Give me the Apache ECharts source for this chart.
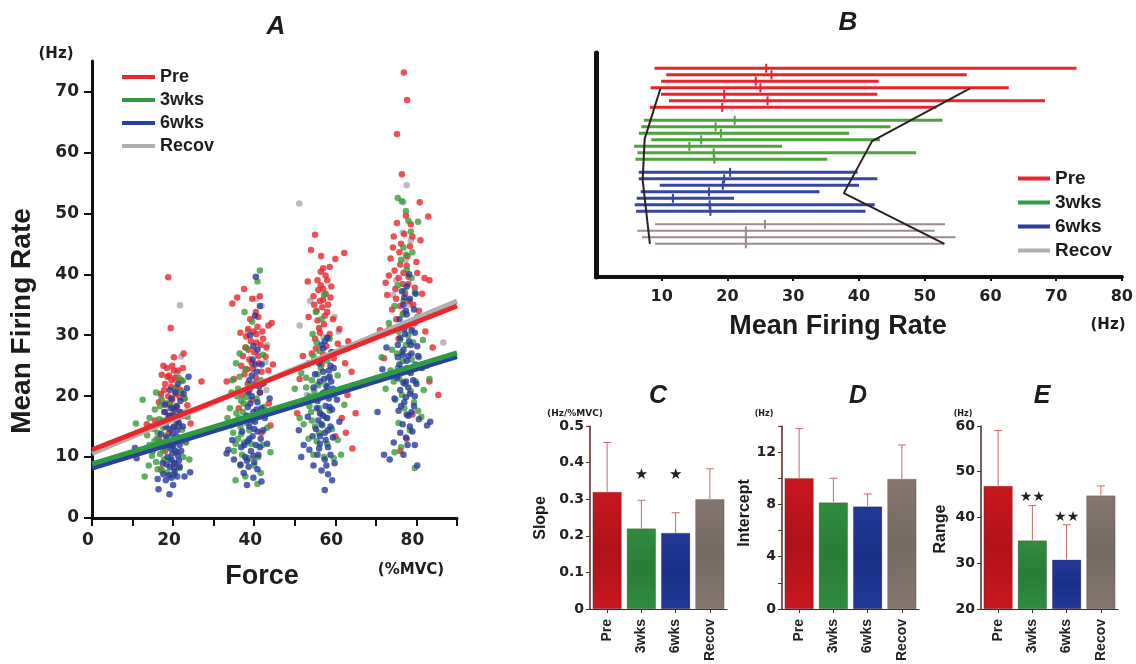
<!DOCTYPE html>
<html>
<head>
<meta charset="utf-8">
<script src="https://cdn.jsdelivr.net/npm/echarts@6/dist/echarts.min.js"></script>
<style>
  html, body { margin: 0; padding: 0; background: #fff; }
  #chart { width: 1136px; height: 664px; }
</style>
</head>
<body>
<div id="chart"></div>
<script>
// ---- panel A : motor unit firing rate vs force ----
const groups = ['Pre', '3wks', '6wks', 'Recov']

const preDots = [
  [18.8,39.5],[19.4,31.2],[22.6,27],[17.6,25],[18.5,24.6],[19.8,25],[21.2,24.2],[17.2,23.5],[20.5,23],[22,22.6],[18,22],[19.5,21.5],[21.8,21],[17,20.4],[18.8,20],[20.6,20.3],[22.8,19.6],[16.5,19],[19.2,18.6],[21,18.2],[23.5,18.5],[17.8,17.4],[20,17],[22.4,16.8],[15.5,16],[18.5,15.8],[21.5,15.2],[14.5,15],[13.5,15.4],[19,14],[24.3,15.5],[16.5,13],[23,12.5],[18,11],[20.5,9],[17,8],[20.2,26.4],[19,23.4],
  [19.6,22.6],[20.8,21.4],[18.6,23.2],[21.6,19.8],[19.8,19.4],[17.8,21],[20.2,24.2],[22.4,24.6],[18.2,18.8],[21.2,16.2],[19.2,16.8],[20,14.8],
  [27,22.4],[34.6,35.2],[35.8,36.2],[37.5,37.6],[39.5,36],[41,33],[44.3,32],[43.5,31.6],[38.5,31],[40.5,30.2],[39.2,29],[41.6,28.4],[37.8,28],[40,27.2],[42.8,26.5],[38.8,26],[41.2,25.4],[36.8,25],[39.6,24.5],[43.5,24.2],[37.6,23.6],[40.4,23],[35,22.8],[42,22],[38.4,22],[44.6,25.2],[33.2,22.4],[41.4,20.6],[37,20.2],[39.4,19.4],[43.6,18.8],[36.2,18],[42.6,17],[44,15.2],[41.8,14],[38,16.6],[42.2,29.4],[39,32.6],[40.8,31.4],[43,28],
  [39.8,30.6],[40.6,28.8],[38.6,27.6],[41,26.6],[39.4,25.4],[38.2,24.4],[40.2,22],[41.8,24],[39,21.2],[42,30.6],[38,29.8],[40.4,33.8],[37.2,26.6],[41.4,36.4],[36.6,30.4],
  [55,46.5],[54,44],[56.5,43],[58.6,41.2],[60,42.5],[62.2,43.5],[57.6,39.8],[55.6,39],[57,37.6],[59,38],[54.6,36.4],[56.2,35.6],[58.2,35],[55.4,34],[57.4,33.2],[59.4,32.6],[53.4,33],[61,31],[63.2,29],[56,31.2],[58.6,30.2],[60.6,28.6],[55,29.4],[57.8,28.2],[52,26.6],[54.2,27],[59.6,26.2],[62.4,25.4],[56.6,25.2],[64,24],[51.2,22.8],[63,20.2],[61.6,16.4],[65,17.2],[62.6,14],[60,13.4],[64.2,11.4],[50.6,17.2],[53.2,38.8],[57,41],
  [56.4,38.2],[57.6,36.8],[55.8,37.4],[57,35.8],[56.8,34.6],[58,33.8],[55.6,32.4],[57.2,31.8],[56.2,30.4],[58.2,29.6],[55.2,27.8],[57,26.8],[58.8,36.2],[54.8,35],[56.4,40.4],[58,39],
  [76.9,73.1],[77.7,68.6],[75.2,63],[76.4,56.4],[80.8,51.8],[82.9,49.5],[77.4,49.6],[78.6,48.2],[75.2,48.4],[74.4,46.2],[76.2,45],[78.4,44.6],[73.6,42.6],[80,42],[77.6,41.4],[74.6,40.6],[82,39.4],[83.2,39],[72.4,38.6],[76.6,38.4],[79.6,37.8],[72.8,36.6],[75,36],[78.2,35.6],[81.4,36.8],[74,34.2],[76.8,33.6],[80.6,34],[73.4,31.2],[79.6,32],[82.2,30.6],[75.6,29.4],[84,28],[72,26.2],[85.4,20.2],[83.2,22.4],[79,17],[77.6,13],[76,11],[71,30.8],[78,39.6],[81,45.6],
  [75.8,43.6],[77,46.6],[76,41.6],[77.8,43],[75.6,39.4],[76.8,40.2],[74.8,37.6],[77.2,36.8],[76,34.8],[78,38.4],[74.2,44.4],[79,46.2],[73.2,39.8],[75,32.6],[80.2,40.2],[79.2,35]
]

const wk3Dots = [
  [10.8,15.5],[12.5,19.4],[14.2,16.4],[15.5,17.8],[16.2,14],[17,12.5],[16.8,10.5],[15.8,9.2],[17.5,11.2],[18.2,13.5],[16.4,11.8],[17.8,9.6],[18.8,16.5],[19.2,19],[20.5,21.2],[21.4,23],[22.4,22.5],[22.8,19.6],[21.5,17.2],[22.2,14.5],[23.2,12.4],[22.5,10],[21.6,8.2],[20.2,7.2],[17.2,7.8],[14,8.6],[13,6.8],[16.6,16.2],[15.4,12.6],[18.6,7.5],[19.8,12],[23.6,16.6],[24,9.6],[14.8,10.2],[20.6,15],[17.6,14.8],
  [16,13],[15.2,14.6],[17.4,16],[16.8,18.4],[15,11],[14.2,12],[18.4,11.8],[16.2,8],[19.2,9.6],[21,10.8],[22,20.6],[20,18],[17.2,19.4],[15.8,20.6],[13.6,13.6],
  [41.4,40.6],[40.8,38.8],[37.6,33.8],[39.5,32.2],[38,28],[35.5,25.4],[34.6,22.6],[35.8,20],[36.8,19.2],[34,18],[33.4,16.4],[35.2,15.6],[36.6,15],[34.8,14],[36,13],[37.5,12.4],[38.8,14.4],[37.2,17.4],[39.6,16.8],[38.4,20.8],[40.6,19.6],[41.6,22.6],[42.4,18.2],[43.2,14.8],[42,12],[41,10],[40,8.6],[38.6,9.8],[36.6,8.6],[35.4,6.2],[37.8,6.8],[40.8,5.6],[41.6,7.4],[44,10.8],[39,21.8],[36.4,23.2],[42.2,26.8],[35,11],
  [36.2,16.4],[37.4,18.8],[35.6,17.2],[38.2,15.6],[36.8,13.8],[35.4,12.2],[37,10.4],[34.2,15.2],[38,19.8],[36,21.2],[39.2,12.2],[37.8,24.4],[34.4,20.6],[36.4,27],
  [57.2,36.6],[55.2,33.8],[56.6,32.6],[54.4,30.2],[58.6,29.4],[59.4,27.2],[56,27.4],[53.4,25.4],[51.6,23.8],[55.6,23.6],[58.2,23],[60.6,23.4],[52.8,21.4],[54.8,20.8],[57.2,20.6],[59.6,20.2],[51.4,18.8],[53.6,18.4],[56,18],[58.6,17.6],[54.2,16],[56.8,15.2],[59.2,14.6],[52.2,15.4],[53.4,13],[55.4,12.6],[58,12.2],[60.6,12.8],[54.6,10.4],[57.2,10],[59.6,9.8],[61.4,10.4],[51.2,16.4],[50,21.2],[62.2,18.6],[61.6,27.8],[55.4,28.8],
  [55.8,21.8],[54.2,22.6],[56.4,24.6],[55,19.6],[57.6,21.8],[53.6,20],[56.6,17],[55,15],[57.8,16.4],[54,17.4],[56,14],[52.8,23],[58,25.8],[54.6,26.6],
  [75.4,52.5],[76.4,52],[77.4,50.4],[78,48.8],[80.4,48.6],[78.6,47],[76.8,44.4],[77.4,43.2],[79,43.6],[76.2,42.4],[77.6,40.8],[78.8,39.4],[75.4,38.2],[77,37.2],[79.6,37],[74.6,34.8],[76.6,33.4],[80.2,33],[73.2,32],[75.6,30.6],[78,30],[81.6,29.2],[74,27.6],[76.4,27.2],[80.6,26.4],[82.6,25],[73.6,24.2],[75.8,22.8],[79.8,22.4],[81.8,21],[74.8,19.4],[77,18],[80.4,17.6],[75.6,15.6],[78.4,14.4],[76.2,11.6],[74.6,10.8],[79.6,8.2],[81.2,16.6],[83.2,22.8],[72.4,21.2],[71.4,26.4],
  [76.6,25.8],[78.2,24],[77.4,28.4],[76,29.2],[78.8,26],[75.4,24.6],[77.2,22],[78.6,20.8],[76.4,20.2],[79.2,28.8],[75.2,27],[77.8,31.6],[74.4,22.4],[76.8,35.6],[79.4,19]
]

const wk6Dots = [
  [10.6,11.5],[11,9.8],[16.4,4.7],[19.1,3.9],[24.2,7.5],[18.2,6.2],[19,7],[19.6,6.6],[20.4,7.6],[21,6.8],[19.2,8.4],[20.2,9],[18.6,10],[19.8,10.6],[21.2,10.2],[20,11.8],[19.4,12.6],[18.4,13.2],[20.8,13.4],[21.6,12],[19.2,14.6],[20.2,15],[18.6,16],[21.4,15.6],[20,16.8],[19.4,18],[20.8,18.4],[19.6,19.6],[20.6,20.6],[22.6,20.4],[23.4,21.3],[23.8,23.2],[22.4,15],[23.6,13.4],[22.8,6.8],[17.4,9],[17.6,11.8],[21.8,17.4],[22,11],[21.6,8.4],[17,13.8],[18,18.6],[16.2,6.4],
  [19.6,9.6],[20.6,11],[18.8,12],[21,14.4],[19.8,13.8],[20.4,17.8],[18.2,15],[21.8,19.2],[19,16.8],[20.2,8.2],[18.4,8.8],[21.4,9.4],[19.4,11.4],[20.8,16],[18,17.4],[22.2,13],[19.2,21],[21.2,22],[17.6,7.2],[20,5.4],
  [40.4,39.6],[41.4,34.8],[40.2,33.2],[39,30],[40.8,27.6],[39.6,26],[41.8,25.2],[40.6,24],[38.8,22.6],[40.2,21.8],[41.4,20.6],[39.4,20],[40.8,19],[38.4,18.2],[39.8,17.4],[41.2,16.6],[40.2,15.8],[38.8,15],[40.8,14.2],[39.6,13.4],[41.6,13],[38.4,12.6],[40.4,12],[39.2,11],[41,10.4],[37.8,10],[40,9.2],[38.6,8.4],[36.6,8.8],[35,9.6],[33.6,11.2],[34.6,12.8],[36.8,11.6],[37.4,7.4],[39.8,6.6],[41.8,6],[43.2,12.2],[42.6,16.4],[43.8,19.6],[37,14.2],[33.2,10.6],[42.4,22.2],[38.2,5.4],
  [39.4,16],[40.6,17.8],[39,18.8],[41.2,21.6],[38.2,16.8],[40,14.6],[38.8,13],[41.4,11.6],[39.8,10.2],[40.8,8],[38.2,9.4],[39.4,23.4],[40.2,25.2],[38.6,20.6],[41.8,18],[39.8,28.2],[37.6,12],[42.2,14.4],
  [58,29.6],[56.6,28.4],[59,27.2],[57.6,26.4],[56,25.4],[58.8,25],[57,24],[58.6,23.2],[56.2,22.4],[58,21.6],[59.4,21.2],[56.8,20.4],[58.4,19.6],[55.6,19.2],[57.6,18.4],[59.2,17.8],[56.2,17.2],[58,16.4],[56.6,15.4],[58.8,15],[55.2,14.6],[57.4,14],[59.4,13.2],[54.4,13.4],[56.2,12.2],[58.2,11.6],[53.6,11.2],[55.6,10.4],[57.4,9.6],[59.8,9],[54.6,8.6],[56.6,7.8],[58.2,7.2],[59.2,6.2],[57.4,4.6],[52.2,12],[51.6,10],[51,14.4],[53.2,16.6],[60.4,19.4],[61,15.8],[54.6,21.4],[57,27.8],[55,23.6],
  [57.2,22.8],[58.4,24.2],[56.8,26],[57.8,20.8],[56.4,19.8],[58.6,18.2],[57,16.8],[58.2,14.4],[56.2,13.4],[57.6,12.8],[55.8,16],[59,22.4],[57.4,29],[56,11.4],[58.8,10.4],[57.8,8.6],[55.4,18],[59.6,24.6],
  [78.2,40],[77.6,38],[76.4,37.2],[78.4,36],[76.8,35],[79.4,34.2],[77.6,33.4],[75.8,32.6],[78.8,32],[77,31],[79.6,30.4],[76,29.6],[78.2,29],[80.2,28.2],[76.8,27.6],[78.8,27],[75.4,26.4],[77.6,25.8],[79.8,25.2],[76.4,24.4],[78.6,23.8],[75.2,23],[77.4,22.4],[80,22],[76,21],[78.4,20.4],[74.6,19.6],[77,19],[79.4,18.4],[75.6,17.6],[78,16.8],[80.6,16.2],[76.6,15.4],[79,14.2],[77.4,13.2],[74.4,12.4],[79.6,12],[72,10.4],[73.4,9.6],[76.8,10.4],[80.2,8.6],[82.6,15.2],[83.4,15.8],[71.6,24.4],[70.4,17.4],[72.6,28],[81.4,24.6],[81,33],[77,36.2],[78,26.6],
  [77.2,30.2],[78.6,28.4],[76.6,26.8],[77.8,24.6],[79.2,22.6],[76.8,22.2],[78,21.4],[77.4,19.8],[78.8,17.4],[76.2,18.4],[77.6,17],[78.4,15],[76,14],[77.8,12],[79.6,20],[75.8,25.2],[78.8,30.8],[77.4,34],[79.8,36.8],[76.4,31.6],[75.4,28.4],[80.4,26.6]
]

const recovDots = [
  [21.7,34.9],[22,26.5],[21,23.8],[20.5,22.7],[23.3,17.5],[17,20],
  [40.5,36],[41.8,34.8],[43.2,28.4],[42.8,25.6],[40.6,22.4],[38.4,30.6],[43,21],
  [51.1,51.6],[51.2,31.6],[53.8,35.6],[59.8,33],[60.8,30.6],[57,29.8],[55.4,22],[53,20.2],
  [77.6,54.6],[76.8,51.8],[76.6,46.8],[78.6,45.6],[77.4,42.4],[75,39],[78.4,35],[79,31.4],[86.6,28.8],[74.2,36.6]
]

// regression line end points (force %MVC, Hz)
const preFit = [[0, 11.2], [90, 34.8]]
const wk3Fit = [[0, 8.9], [90, 27.1]]
const wk6Fit = [[0, 8.2], [90, 26.5]]
const recovFit = [[0, 10.6], [90, 35.6]]

// ---- panel B : recruitment ranges of single units ----
const preRows = [1, 2, 3, 4, 5, 6, 7]
const preStart = [8.9, 10.7, 9.9, 8.3, 9.9, 11.1, 8.2]
const preEnd = [73.1, 56.4, 43.0, 62.8, 42.8, 68.3, 51.8]
const preMean = [25.9, 26.7, 24.3, 25.0, 19.5, 26.1, 19.2]
const wk3Rows = [9, 10, 11, 12, 13, 14, 15]
const wk3Start = [7.3, 6.9, 6.5, 8.4, 5.8, 6.3, 6.0]
const wk3End = [52.7, 44.8, 38.5, 43.2, 28.3, 48.7, 35.2]
const wk3Mean = [21.1, 18.2, 19.0, 16.0, 14.2, 17.9, 18.0]
const wk6Rows = [17, 18, 19, 20, 21, 22, 23]
const wk6Start = [6.5, 6.5, 9.7, 6.8, 6.2, 5.9, 6.1]
const wk6End = [39.8, 42.8, 40.0, 34.0, 21.0, 42.4, 41.0]
const wk6Mean = [20.4, 19.5, 19.3, 17.2, 11.7, 17.3, 17.4]
const recovRows = [25, 26, 27, 28]
const recovStart = [9.0, 6.3, 7.0, 9.0]
const recovEnd = [53.1, 51.5, 54.7, 53.0]
const recovMean = [25.7, 22.8, 22.8, 22.8]

const envLow = [[9.8, 4.1], [7.4, 11.9], [7.1, 18.2], [8.2, 28]]
const envHigh = [[56.9, 4.1], [42.0, 12.2], [37.7, 20.2], [53.0, 28]]

// ---- panels C, D, E : group means + SD ----
const slopeMean = [0.32, 0.22, 0.208, 0.30]
const slopeSd = [0.135, 0.077, 0.055, 0.083]
const interceptMean = [10.0, 8.15, 7.85, 9.95]
const interceptSd = [3.8, 1.85, 0.95, 2.6]
const rangeMean = [46.9, 35.0, 30.8, 44.8]
const rangeSd = [12.1, 7.6, 7.6, 2.1]
const slopeStars = [[1, 0.365, '★'], [2, 0.365, '★']]
const rangeStars = [[1, 44.3, '★★'], [2, 40.0, '★★']]

const RED = '#e8262b', GREEN = '#3a9b3c', BLUE = '#283b9b', GRAY = '#aaa6b0'
const BF = 'Liberation Sans', NF = 'DejaVu Sans'

function barGrad(c1, c2) {
  return new echarts.graphic.LinearGradient(0, 0, 0, 1, [
    { offset: 0, color: c1 }, { offset: 0.5, color: c2 }, { offset: 1, color: c1 },
  ])
}
const barFill = [
  barGrad('#c8171f', '#b01219'),
  barGrad('#2f8c3e', '#287d37'),
  barGrad('#223896', '#1b2f86'),
  barGrad('#85766f', '#746a64'),
]

function rangeData(rows, start, end, mean) {
  return rows.map((r, i) => [r, start[i], end[i], mean[i]])
}
function rangeRender(color, width) {
  return function (params, api) {
    const r = api.value(0)
    const p0 = api.coord([api.value(1), r])
    const p1 = api.coord([api.value(2), r])
    const pm = api.coord([api.value(3), r])
    return {
      type: 'group',
      children: [
        { type: 'line', shape: { x1: p0[0], y1: p0[1], x2: p1[0], y2: p1[1] }, style: { stroke: color, lineWidth: width } },
        { type: 'line', shape: { x1: pm[0], y1: pm[1] - 4.5, x2: pm[0], y2: pm[1] + 4.5 }, style: { stroke: color, lineWidth: 2 } },
      ],
    }
  }
}
function rangeSeries(name, rows, start, end, mean, color, width) {
  return {
    name: name, type: 'custom', xAxisIndex: 1, yAxisIndex: 1,
    renderItem: rangeRender(color, width),
    encode: { x: [1, 2], y: 0 },
    data: rangeData(rows, start, end, mean),
  }
}

function errSeries(idx, mean, sd) {
  return {
    type: 'custom', xAxisIndex: idx, yAxisIndex: idx, z: 3,
    renderItem: function (params, api) {
      const lo = api.coord([api.value(0), api.value(1)])
      const hi = api.coord([api.value(0), api.value(2)])
      const st = { stroke: '#c46a66', lineWidth: 1 }
      return {
        type: 'group',
        children: [
          { type: 'line', shape: { x1: lo[0], y1: lo[1], x2: hi[0], y2: hi[1] }, style: st },
          { type: 'line', shape: { x1: hi[0] - 4, y1: hi[1], x2: hi[0] + 4, y2: hi[1] }, style: st },
        ],
      }
    },
    encode: { x: 0, y: [1, 2] },
    data: mean.map((m, i) => [i, m, m + sd[i]]),
  }
}
function starSeries(idx, stars, size) {
  return {
    type: 'custom', xAxisIndex: idx, yAxisIndex: idx, z: 4,
    renderItem: function (params, api) {
      const p = api.coord([api.value(0), api.value(1)])
      return {
        type: 'text', x: p[0], y: p[1],
        style: { text: stars[params.dataIndex][2], align: 'center', verticalAlign: 'middle', fontFamily: NF, fontSize: size, fill: '#222' },
      }
    },
    data: stars.map((s) => [s[0], s[1]]),
  }
}
function barSeries(idx, mean) {
  return {
    type: 'bar', xAxisIndex: idx, yAxisIndex: idx, barCategoryGap: '15%', clip: true,
    data: mean.map((v, i) => ({ value: v, itemStyle: { color: barFill[i], borderColor: 'rgba(60,20,20,0.35)', borderWidth: 0.6 } })),
  }
}

function valAxisY(idx, min, max, ticks, labels) {
  return {
    type: 'value', gridIndex: idx, min: min, max: max, startValue: min,
    splitLine: { show: false },
    axisLine: { show: true, lineStyle: { color: '#4a2a25', width: 1.5 } },
    axisTick: { show: true, customValues: ticks, length: 4, lineStyle: { color: '#4a2a25' } },
    axisLabel: { customValues: labels, margin: 6, fontFamily: NF, fontWeight: 'bold', fontSize: 14, color: '#222' },
  }
}
function catAxisX(idx) {
  return {
    type: 'category', gridIndex: idx, data: groups,
    axisLine: { show: true, lineStyle: { color: '#4a2a25', width: 1.2 } },
    axisTick: { show: true, alignWithLabel: true, length: 4, lineStyle: { color: '#4a2a25' } },
    axisLabel: { rotate: 90, margin: 10, fontFamily: BF, fontWeight: 'bold', fontSize: 14, color: '#222' },
  }
}

function txt(text, x, y, size, font, opts) {
  const o = opts || {}
  return {
    type: 'text', x: x, y: y, rotation: o.rot || 0,
    style: {
      text: text, align: 'center', verticalAlign: 'middle',
      fontFamily: font, fontWeight: 'bold', fontStyle: o.italic ? 'italic' : 'normal',
      fontSize: size, fill: '#1c1c1c',
    },
  }
}

const chart = echarts.init(document.getElementById('chart'))
const option = {
  animation: false,
  backgroundColor: '#ffffff',
  grid: [
    { left: 92, top: 61, width: 365, height: 457 },
    { left: 596, top: 53, width: 529, height: 224 },
    { left: 590, top: 426, width: 137, height: 183 },
    { left: 782, top: 426, width: 137, height: 183 },
    { left: 981, top: 426, width: 137, height: 183 },
  ],
  legend: [
    {
      data: groups, left: 117, top: 63, orient: 'vertical', icon: 'rect',
      itemWidth: 33, itemHeight: 4, itemGap: 5, itemTextGap: 13, selectedMode: false,
      textStyle: { fontFamily: BF, fontWeight: 'bold', fontSize: 18, color: '#1c1c1c' },
    },
    {
      data: groups, left: 1013, top: 164, orient: 'vertical', icon: 'rect',
      itemWidth: 32, itemHeight: 4, itemGap: 5, itemTextGap: 13, selectedMode: false,
      textStyle: { fontFamily: BF, fontWeight: 'bold', fontSize: 19, color: '#1c1c1c' },
    },
  ],
  xAxis: [
    {
      type: 'value', gridIndex: 0, min: 0, max: 90, splitLine: { show: false },
      axisLine: { lineStyle: { color: '#111', width: 3 } },
      axisTick: { customValues: [0, 10, 20, 30, 40, 50, 60, 70, 80, 90], length: 8, lineStyle: { color: '#111', width: 2 } },
      axisLabel: { customValues: [0, 20, 40, 60, 80], margin: 14, padding: [0, 8, 0, 0], fontFamily: NF, fontWeight: 'bold', fontSize: 17, color: '#222' },
    },
    {
      type: 'value', gridIndex: 1, min: 0, max: 80, splitLine: { show: false },
      axisLine: { onZero: false, lineStyle: { color: '#111', width: 4 } },
      axisTick: { customValues: [10, 20, 30, 40, 50, 60, 70, 80], length: 4, lineStyle: { color: '#111', width: 2 } },
      axisLabel: { customValues: [10, 20, 30, 40, 50, 60, 70, 80], margin: 12, fontFamily: NF, fontWeight: 'bold', fontSize: 16, color: '#222' },
    },
    catAxisX(2), catAxisX(3), catAxisX(4),
  ],
  yAxis: [
    {
      type: 'value', gridIndex: 0, min: 0, max: 75, splitLine: { show: false },
      axisLine: { show: true, lineStyle: { color: '#111', width: 3 } },
      axisTick: { show: true, customValues: [0, 10, 20, 30, 40, 50, 60, 70], length: 8, lineStyle: { color: '#111', width: 2 } },
      axisLabel: { customValues: [0, 10, 20, 30, 40, 50, 60, 70], margin: 13, fontFamily: NF, fontWeight: 'bold', fontSize: 17, color: '#222' },
    },
    {
      type: 'value', gridIndex: 1, min: -1.35, max: 33.1, inverse: true, splitLine: { show: false },
      axisLine: { show: true, lineStyle: { color: '#111', width: 5 } },
      axisTick: { show: false }, axisLabel: { show: false },
    },
    valAxisY(2, 0, 0.5, [0, 0.1, 0.2, 0.3, 0.4, 0.5], [0, 0.1, 0.2, 0.3, 0.4, 0.5]),
    valAxisY(3, 0, 14, [0, 2, 4, 6, 8, 10, 12, 14], [0, 4, 8, 12]),
    valAxisY(4, 20, 60, [20, 30, 40, 50, 60], [20, 30, 40, 50, 60]),
  ],
  graphic: [
    txt('A', 276, 27, 26, BF, { italic: true }),
    txt('B', 848, 23, 26, BF, { italic: true }),
    txt('C', 658, 396, 25, BF, { italic: true }),
    txt('D', 858, 396, 25, BF, { italic: true }),
    txt('E', 1042, 396, 25, BF, { italic: true }),
    txt('(Hz)', 56, 54, 15, NF),
    txt('Mean Firing Rate', 22, 321, 28, BF, { rot: Math.PI / 2 }),
    txt('Force', 262, 577, 27, BF),
    txt('(%MVC)', 411, 570, 15, NF),
    txt('Mean Firing Rate', 838, 327, 27, BF),
    txt('(Hz)', 1108, 325, 15, NF),
    txt('(Hz/%MVC)', 575, 414, 9, NF),
    txt('Slope', 541, 518, 16, BF, { rot: Math.PI / 2 }),
    txt('(Hz)', 764, 414, 8, NF),
    txt('Intercept', 745, 513, 16, BF, { rot: Math.PI / 2 }),
    txt('(Hz)', 963, 414, 8, NF),
    txt('Range', 941, 529, 16, BF, { rot: Math.PI / 2 }),
  ],
  series: [
    // A scatter (back layers)
    { name: 'Recov dots', type: 'scatter', xAxisIndex: 0, yAxisIndex: 0, symbolSize: 6.5, itemStyle: { color: GRAY }, data: recovDots },
    { name: 'Pre dots', type: 'scatter', xAxisIndex: 0, yAxisIndex: 0, symbolSize: 6.5, itemStyle: { color: RED }, data: preDots },
    { name: '3wks dots', type: 'scatter', xAxisIndex: 0, yAxisIndex: 0, symbolSize: 6.5, itemStyle: { color: GREEN }, data: wk3Dots },
    // A regression lines
    { name: 'Recov', type: 'line', xAxisIndex: 0, yAxisIndex: 0, symbol: 'none', itemStyle: { color: '#b3adb0' }, lineStyle: { color: '#b3adb0', width: 5 }, data: recovFit },
    { name: 'Pre', type: 'line', xAxisIndex: 0, yAxisIndex: 0, symbol: 'none', itemStyle: { color: RED }, lineStyle: { color: RED, width: 5 }, data: preFit },
    { name: '6wks', type: 'line', xAxisIndex: 0, yAxisIndex: 0, symbol: 'none', itemStyle: { color: '#2a3f9e' }, lineStyle: { color: '#2a3f9e', width: 5 }, data: wk6Fit },
    { name: '3wks', type: 'line', xAxisIndex: 0, yAxisIndex: 0, symbol: 'none', itemStyle: { color: '#2f9a46' }, lineStyle: { color: '#2f9a46', width: 5 }, data: wk3Fit },
    { name: '6wks dots', type: 'scatter', xAxisIndex: 0, yAxisIndex: 0, symbolSize: 6.5, itemStyle: { color: BLUE }, data: wk6Dots },

    // B ranges
    rangeSeries('Pre range', preRows, preStart, preEnd, preMean, '#e8232b', 3),
    rangeSeries('3wks range', wk3Rows, wk3Start, wk3End, wk3Mean, '#4ea23c', 3),
    rangeSeries('6wks range', wk6Rows, wk6Start, wk6End, wk6Mean, '#3545a2', 3),
    rangeSeries('Recov range', recovRows, recovStart, recovEnd, recovMean, '#9c8a8c', 2),
    { type: 'line', xAxisIndex: 1, yAxisIndex: 1, symbol: 'none', lineStyle: { color: '#2a2222', width: 2 }, data: envLow },
    { type: 'line', xAxisIndex: 1, yAxisIndex: 1, symbol: 'none', lineStyle: { color: '#2a2222', width: 2 }, data: envHigh },

    // C, D, E
    barSeries(2, slopeMean), errSeries(2, slopeMean, slopeSd), starSeries(2, slopeStars, 15),
    barSeries(3, interceptMean), errSeries(3, interceptMean, interceptSd),
    barSeries(4, rangeMean), errSeries(4, rangeMean, rangeSd), starSeries(4, rangeStars, 14),
  ],
}
chart.setOption(option)
</script>
</body>
</html>
